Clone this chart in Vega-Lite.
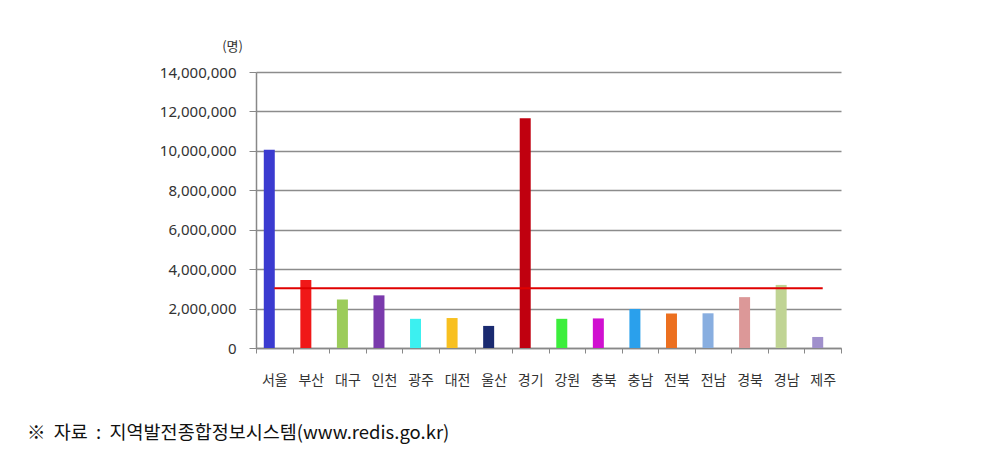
{
  "$schema": "https://vega.github.io/schema/vega-lite/v6.json",
  "autosize": {"type": "none"},
  "width": 585,
  "height": 276,
  "padding": {"left": 256, "top": 72, "right": 167, "bottom": 102},
  "background": "white",
  "config": {
    "view": {"stroke": null},
    "font": "Noto Sans CJK KR"
  },
  "title": {
    "text": "※\u00a0\u00a0자료\u00a0\u00a0:\u00a0\u00a0지역발전종합정보시스템(www.redis.go.kr)",
    "orient": "bottom",
    "anchor": "start",
    "frame": "group",
    "dx": -229,
    "offset": 37,
    "fontSize": 18.5,
    "fontWeight": "normal",
    "color": "#111111",
    "font": "Noto Sans CJK KR"
  },
  "datasets": {
    "pop": [
      {"region": "서울", "value": 10050000},
      {"region": "부산", "value": 3450000},
      {"region": "대구", "value": 2460000},
      {"region": "인천", "value": 2670000},
      {"region": "광주", "value": 1480000},
      {"region": "대전", "value": 1520000},
      {"region": "울산", "value": 1120000},
      {"region": "경기", "value": 11650000},
      {"region": "강원", "value": 1480000},
      {"region": "충북", "value": 1500000},
      {"region": "충남", "value": 1980000},
      {"region": "전북", "value": 1750000},
      {"region": "전남", "value": 1760000},
      {"region": "경북", "value": 2580000},
      {"region": "경남", "value": 3200000},
      {"region": "제주", "value": 560000}
    ],
    "avg": [
      {"region": "서울", "value": 3030000},
      {"region": "제주", "value": 3030000}
    ]
  },
  "encoding": {
    "x": {
      "field": "region",
      "type": "nominal",
      "scale": {
        "domain": ["서울","부산","대구","인천","광주","대전","울산","경기","강원","충북","충남","전북","전남","경북","경남","제주"],
        "paddingInner": 0, "paddingOuter": 0
      },
      "axis": {
        "title": null,
        "labelAngle": 0,
        "labelFontSize": 14,
        "labelColor": "#333333",
        "labelPadding": 20,
        "tickBand": "extent",
        "tickSize": 5,
        "tickColor": "#888888",
        "domainColor": "#888888",
        "domainWidth": 1.5,
        "grid": false
      }
    },
    "y": {
      "field": "value",
      "type": "quantitative",
      "scale": {"domain": [0, 14000000]},
      "axis": {
        "title": "(명)",
        "titleAngle": 0,
        "titleX": -24,
        "titleY": -26,
        "titleAlign": "center",
        "titleBaseline": "middle",
        "titleFontSize": 13,
        "titleFontWeight": "normal",
        "titleColor": "#333333",
        "values": [0,2000000,4000000,6000000,8000000,10000000,12000000,14000000],
        "format": ",d",
        "labelOverlap": false,
        "labelFontSize": 15,
        "labelColor": "#333333",
        "labelPadding": 13,
        "labelFont": "Noto Sans",
        "tickSize": 7,
        "tickColor": "#888888",
        "domainColor": "#888888",
        "domainWidth": 1.5,
        "grid": true,
        "gridColor": "#8c8c8c",
        "gridWidth": 1.5
      }
    }
  },
  "layer": [
    {
      "data": {"name": "pop"},
      "mark": {"type": "bar", "size": 11, "xOffset": -5},
      "encoding": {
        "color": {
          "field": "region",
          "type": "nominal",
          "legend": null,
          "scale": {
            "domain": ["서울","부산","대구","인천","광주","대전","울산","경기","강원","충북","충남","전북","전남","경북","경남","제주"],
            "range": ["#3b3bd0","#f01818","#9ccc5a","#7a3aac","#3cf0f0","#f8c020","#1a2a70","#c0000f","#3cee3c","#d010d0","#2aa0ec","#ec7020","#88aee0","#dc9898","#c0d494","#a090cc"]
          }
        }
      }
    },
    {
      "data": {"name": "avg"},
      "mark": {"type": "line", "color": "#e00000", "strokeWidth": 2},
      "encoding": {}
    }
  ]
}
